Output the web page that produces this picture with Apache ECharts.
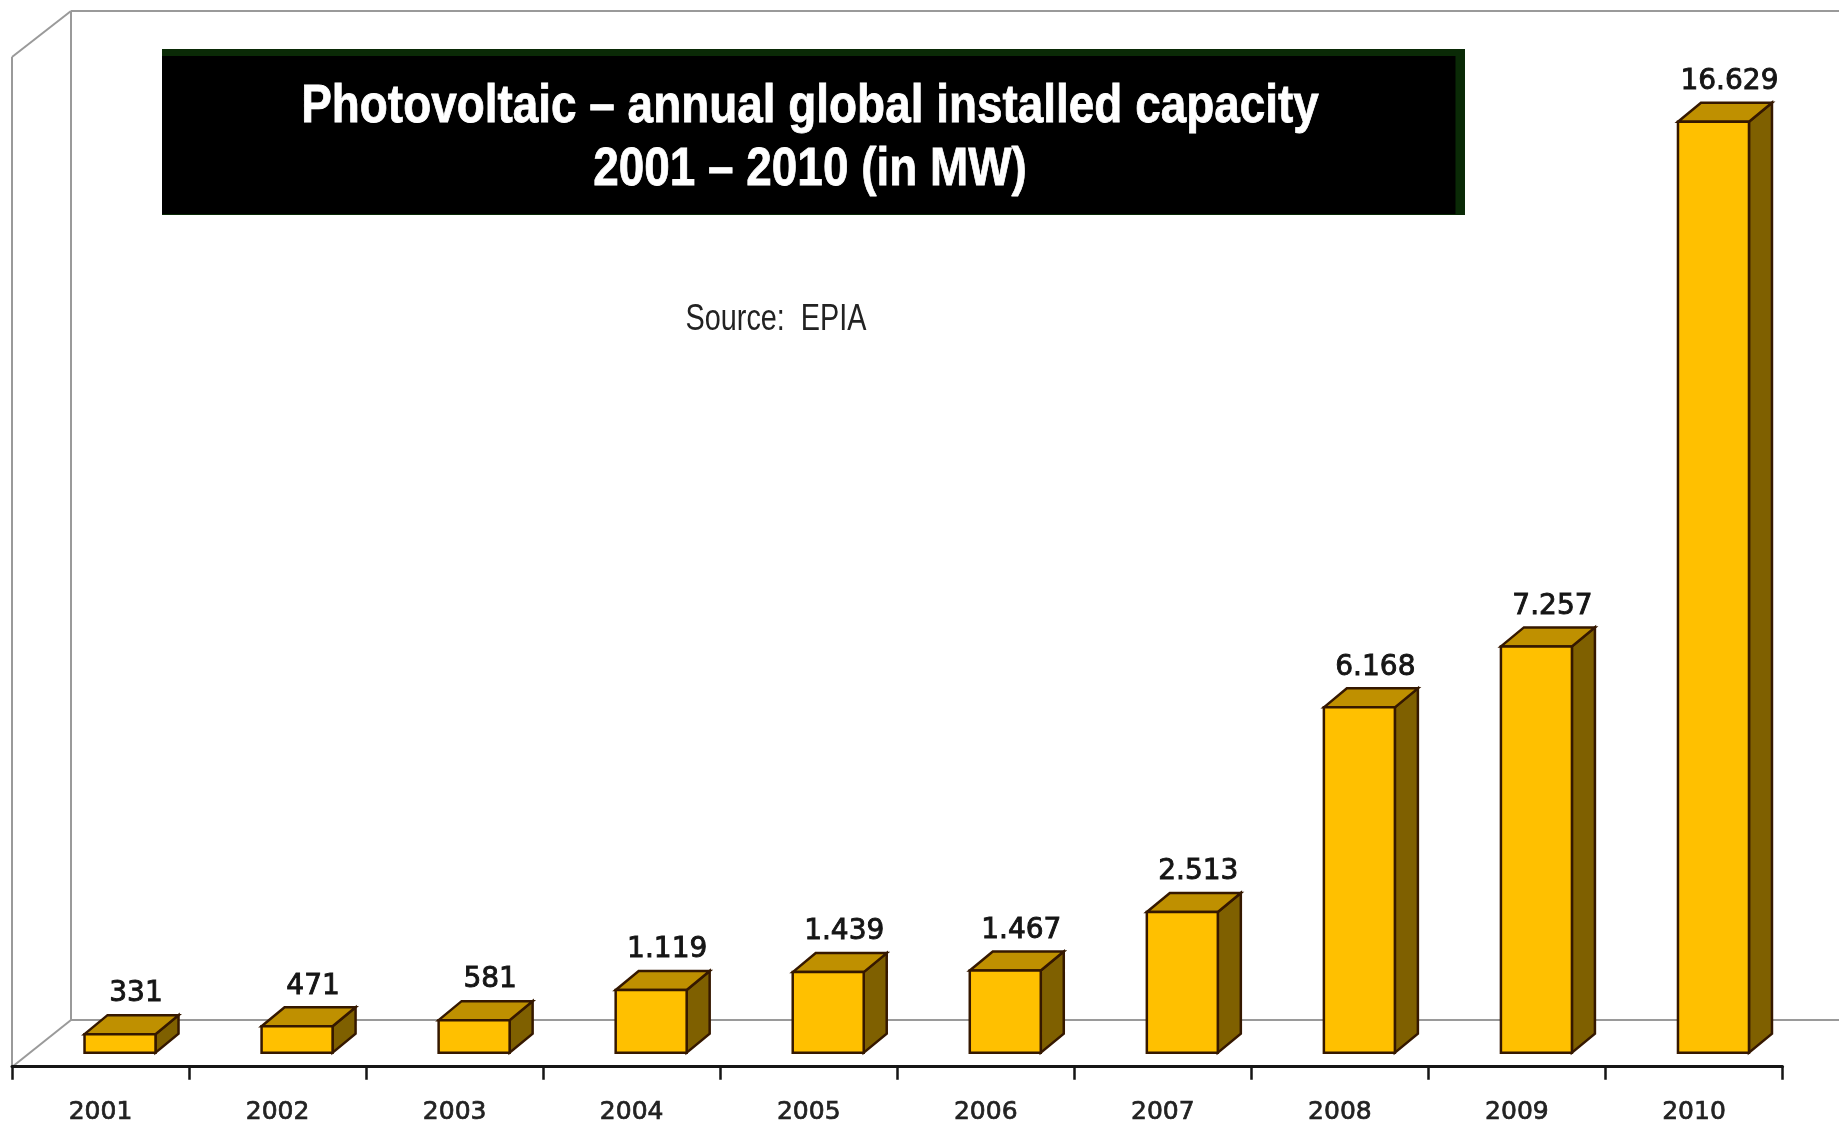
<!DOCTYPE html>
<html>
<head>
<meta charset="utf-8">
<style>html,body{margin:0;padding:0;background:#fff}#c{width:1839px;height:1125px}</style>
<script src="https://cdn.jsdelivr.net/npm/echarts@6/dist/echarts.min.js"></script>
</head>
<body>
<div id="c"></div>
<script>
const years = ['2001','2002','2003','2004','2005','2006','2007','2008','2009','2010'];
const capacityMW = [331,471,581,1119,1439,1467,2513,6168,7257,16629];
const titleText = 'Photovoltaic – annual global installed capacity\n2001 – 2010 (in MW)';
const sourceText = 'Source:  EPIA';

const fmt = v => String(v).replace(/\B(?=(\d{3})+$)/g, '.');
const FRONT='#FFC000', TOP='#BF9000', SIDE='#7F6000', EDGE='#351800', WALL='#9a9a9a';
const DX=23, DY=19, BAR_W=71, SHIFT=19.5;

function renderBar(params, api){
  const i = api.value(0), v = api.value(1);
  const topPt = api.coord([i, v]), base = api.coord([i, 0]);
  const l = topPt[0] + SHIFT - BAR_W/2, r = l + BAR_W, t = topPt[1], b = base[1];
  const st = c => ({fill:c, stroke:EDGE, lineWidth:2.5, lineJoin:'miter'});
  return {type:'group', children:[
    {type:'polygon', shape:{points:[[r,t],[r+DX,t-DY],[r+DX,b-DY],[r,b]]}, style:st(SIDE)},
    {type:'polygon', shape:{points:[[l,t],[l+DX,t-DY],[r+DX,t-DY],[r,t]]}, style:st(TOP)},
    {type:'rect', shape:{x:l,y:t,width:BAR_W,height:b-t}, style:st(FRONT)},
    {type:'text', style:{x:(l+r)/2+16, y:t-40, text:fmt(v), align:'center', verticalAlign:'middle',
      font:'28px "DejaVu Sans"', fill:'#151515', stroke:'#151515', lineWidth:0.9}}
  ]};
}

const line = (x1,y1,x2,y2) => ({type:'line', shape:{x1,y1,x2,y2}, style:{stroke:WALL,lineWidth:2}});

const chart = echarts.init(document.getElementById('c'), null, {renderer:'canvas'});
chart.setOption({
  animation:false,
  backgroundColor:'#fff',
  grid:{left:12, right:56.5, top:45, bottom:57, containLabel:false},
  xAxis:{type:'category', data:years, boundaryGap:true,
    axisLine:{onZero:false, lineStyle:{color:'#151515',width:3}},
    axisTick:{show:true, length:13, alignWithLabel:false, lineStyle:{color:'#151515',width:2.5}},
    axisLabel:{margin:33, fontFamily:'"DejaVu Sans"', fontSize:25, color:'#222', textBorderColor:'#222', textBorderWidth:0.7},
    splitLine:{show:false}},
  yAxis:{type:'value', min:-250, max:18000, show:false, splitLine:{show:false}},
  graphic:{elements:[
    line(71,11,1839,11), line(71,11,71,1020), line(71,1020,1839,1020),
    line(12,57,71,11), line(12,57,12,1067), line(12,1067,71,1020),
    {type:'rect', shape:{x:162,y:49,width:1303,height:166}, style:{fill:'#0a2a06'}},
    {type:'rect', shape:{x:162,y:56,width:1293.5,height:158}, style:{fill:'#000'}},
    {type:'text', x:810, y:76, scaleX:0.85, style:{text:titleText, align:'center', verticalAlign:'top',
      fill:'#fff', stroke:'#fff', lineWidth:0.8, font:'bold 54px "Liberation Sans"', lineHeight:63}},
    {type:'text', x:776, y:302, scaleX:0.8, style:{text:sourceText, align:'center', verticalAlign:'top',
      fill:'#222', font:'36px "Liberation Sans"'}}
  ]},
  series:[{type:'custom', renderItem:renderBar, encode:{x:0,y:1},
    data:capacityMW.map((v,i)=>[i,v]), clip:false}]
});
</script>
</body>
</html>
